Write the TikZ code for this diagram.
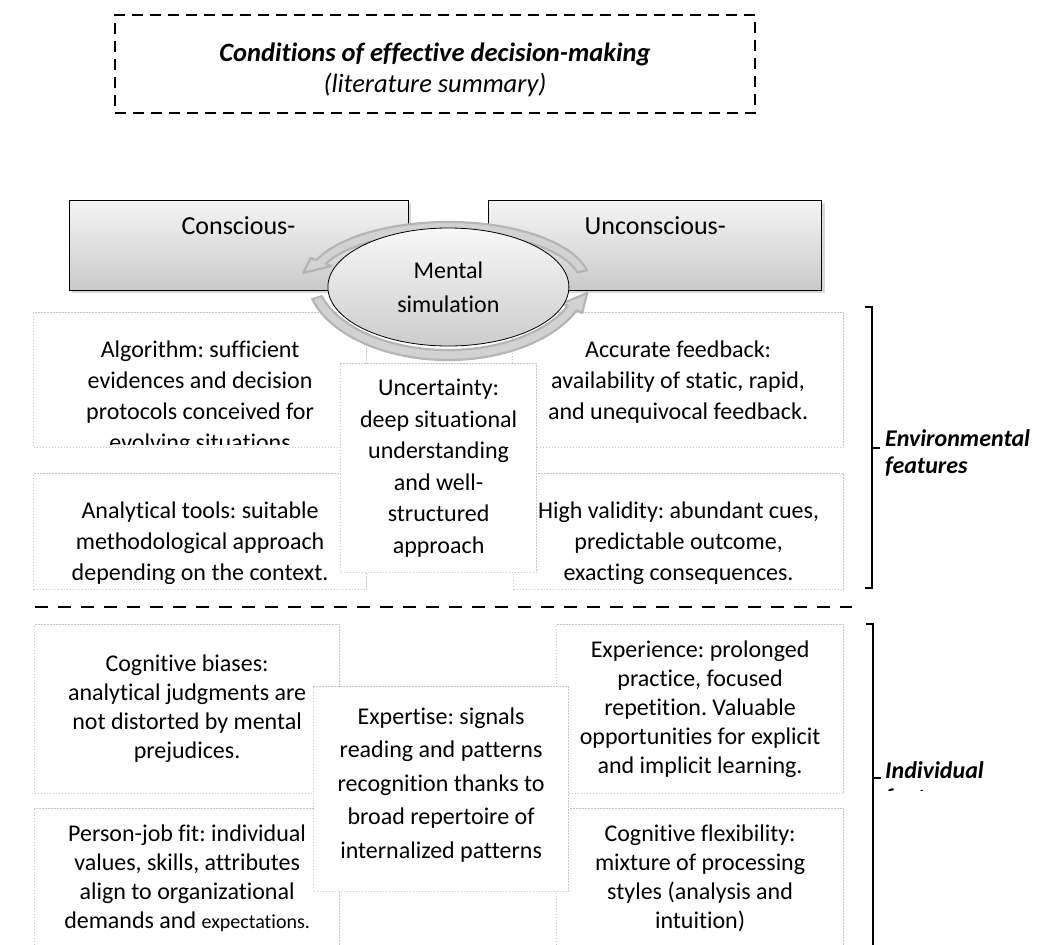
\documentclass[tikz,border=0pt]{standalone}
\usepackage{fontspec}
\setmainfont{Carlito}[Ligatures=CommonOff]
\usetikzlibrary{positioning,calc,shapes.geometric,shadows}

\begin{document}
\frenchspacing
\begin{tikzpicture}[
x=1pt,y=1pt,
node distance=80pt,
every node/.style={
inner sep=0pt
},
gbox/.style={
rectangle,
draw,
thick,
top color=gray!8,
bottom color=gray!42,
drop shadow={shadow xshift=3pt,shadow yshift=-3pt,opacity=0.3},
minimum height=90pt
},
simstyle/.style={
ellipse,
draw,
thick,
top color=gray!5,
bottom color=gray!40,
minimum width=241pt,
minimum height=118pt,
align=center,
font=\fontsize{24}{34}\selectfont
},
dotbox/.style={
rectangle,
draw=gray!45,
line width=1.2pt,
dash pattern=on 1.2pt off 1.8pt,
fill=white,
anchor=north west,
align=center,
font=\fontsize{24}{29}\selectfont
},
txt/.style={align=center,font=\fontsize{24}{31}\selectfont},
lbl/.style={font=\fontsize{26}{30}\selectfont},
sidelbl/.style={align=left,anchor=north west,font=\fontsize{24}{27}\selectfont\bfseries\itshape},
cycarrow/.style={draw=gray!58,fill=gray!35,line width=2.2pt,line join=round},
brk/.style={line width=1.2pt},
sepline/.style={line width=2.6pt,dash pattern=on 13pt off 10pt}
]
\useasboundingbox (0,0) rectangle (1045,-945);
\clip (0,0) rectangle (1045,-945);

\node[draw,line width=1.4pt,dash pattern=on 11pt off 7pt,minimum width=640pt,minimum height=98pt] (title) at (435,-64) {};
\node[txt,below=28pt of title.north,font=\fontsize{26.5}{31}\selectfont] (titletxt) {\textbf{\textit{Conditions of effective decision-making}}\\\textit{(literature summary)}};

\node[dotbox,minimum width=333pt,minimum height=135pt] (alg) at (33,-312) {};
\node[dotbox,minimum width=331pt,minimum height=135pt] (acc) at (512,-312) {};
\node[dotbox,minimum width=333pt,minimum height=116pt] (ana) at (33,-473) {};
\node[dotbox,minimum width=330pt,minimum height=116pt] (hv) at (513,-473) {};
\begin{scope}
\clip (alg.north west) rectangle ($(alg.south east)+(0,4)$);
\node[txt,below=29pt of alg.north] (algtxt) {Algorithm: sufficient\\evidences and decision\\protocols conceived for\\evolving situations};
\end{scope}
\node[txt,below=29pt of acc.north] (acctxt) {Accurate feedback:\\availability of static, rapid,\\and unequivocal feedback.};
\begin{scope}
\clip (ana.north west) rectangle ($(ana.south east)+(0,7)$);
\node[txt,below=29pt of ana.north] (anatxt) {Analytical tools: suitable\\methodological approach\\depending on the context.};
\end{scope}
\begin{scope}
\clip (hv.north west) rectangle ($(hv.south east)+(0,7)$);
\node[txt,below=29pt of hv.north] (hvtxt) {High validity: abundant cues,\\predictable outcome,\\exacting consequences.};
\end{scope}
\node[dotbox,minimum width=196pt,minimum height=209pt,font=\fontsize{24}{31.6}\selectfont] (unc) at (340,-363) {Uncertainty:\\deep situational\\understanding\\and well-\\structured\\approach};

\node[gbox,minimum width=339pt] (con) at (238.5,-245) {};
\node[gbox,minimum width=333pt,right=of con] (uncon) {};
\node[lbl,below=17pt of con.north] (contxt) {Conscious-};
\node[lbl,below=17pt of uncon.north] (uncontxt) {Unconscious-};

\coordinate (upc) at (448,-283);
\coordinate (loc) at (448,-274);
\draw[cycarrow] ($(upc)+(12:142 and 61)$) arc[start angle=12,end angle=158,x radius=142,y radius=61]
  -- ($(upc)+(158:148 and 67)$) -- ($(upc)+(170:147 and 58)$) -- ($(upc)+(158:126 and 45)$)
  -- ($(upc)+(158:132 and 51)$) arc[start angle=158,end angle=12,x radius=132,y radius=51] -- cycle;
\draw[cycarrow] ($(loc)+(197:142 and 86)$) arc[start angle=197,end angle=335,x radius=142,y radius=86]
  -- ($(loc)+(335:148 and 92)$) -- ($(loc)+(347:143 and 84)$) -- ($(loc)+(335:126 and 70)$)
  -- ($(loc)+(335:132 and 76)$) arc[start angle=335,end angle=197,x radius=132,y radius=76] -- cycle;
\node[simstyle] (sim) at ($(con.east)!0.5!(uncon.west)+(0,-42)$) {Mental\\simulation};

\draw[sepline] (35,-607) -- (852,-607);

\node[dotbox,minimum width=305pt,minimum height=169pt] (cb) at (34,-624) {Cognitive biases:\\analytical judgments are\\not distorted by mental\\prejudices.};
\node[dotbox,minimum width=287pt,minimum height=169pt] (exp) at (556,-624) {Experience: prolonged\\practice, focused\\repetition. Valuable\\opportunities for explicit\\and implicit learning.};
\node[dotbox,minimum width=305pt,minimum height=140pt] (pj) at (34,-808) {Person-job fit: individual\\values, skills, attributes\\align to organizational\\demands and {\fontsize{20}{29}\selectfont expectations.}};
\node[dotbox,minimum width=287pt,minimum height=140pt] (cf) at (556,-808) {Cognitive flexibility:\\mixture of processing\\styles (analysis and\\intuition)};
\node[dotbox,minimum width=255pt,minimum height=205pt,font=\fontsize{24}{33.5}\selectfont] (ex) at (313,-686) {Expertise: signals\\reading and patterns\\recognition thanks to\\broad repertoire of\\internalized patterns\\[-21.5pt]};

\draw[brk] (865,-307) -- (872,-307) -- (872,-588) -- (865,-588);
\draw[brk] (872,-448) -- (880,-448);
\node[sidelbl] (envlbl) at (885,-429) {Environmental\\features};
\draw[brk] (866,-624) -- (873,-624) -- (873,-960);
\draw[brk] (873,-778) -- (881,-778);
\begin{scope}
\clip (880,-740) rectangle (1045,-790);
\node[sidelbl] (indlbl) at (885,-761) {Individual\\features};
\end{scope}
\end{tikzpicture}
\end{document}
